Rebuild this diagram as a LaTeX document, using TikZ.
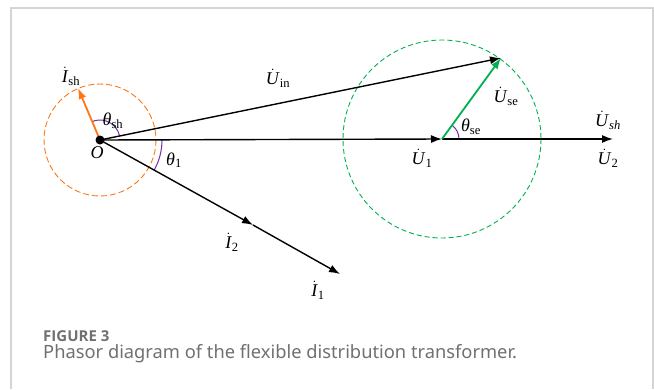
\documentclass[tikz,border=0pt]{standalone}
\usepackage{amsmath}
\usepackage{fontspec}
\setmainfont{Liberation Serif}
\newfontfamily\capfont{Noto Sans}
\newfontfamily\capboldfont{Open Sans}
\usetikzlibrary{arrows.meta,calc}
\definecolor{shorange}{RGB}{255,118,20}
\definecolor{segreen}{RGB}{0,176,80}
\definecolor{arcpurple}{RGB}{112,48,160}
\definecolor{framegray}{RGB}{212,212,212}
\definecolor{capgray}{RGB}{112,112,112}
\newcommand{\ph}[1]{\dot{\mbox{\textit{#1}}}}
\newcommand{\thet}{\mbox{\textit{θ}}}
\tikzset{
  phasor/.style={-{Latex[length=11pt,width=8pt]},black,line width=1.4pt},
  lbl/.style={font=\fontsize{18}{21}\selectfont,inner sep=0pt},
  anglearc/.style={arcpurple,line width=1pt}
}

\begin{document}
\begin{tikzpicture}[x=1pt,y=-1pt]
\useasboundingbox (0,0) rectangle (654,389);
% Frame
\draw[framegray,line width=1.2pt] (11,389) -- (11,8) -- (653,8) -- (653,389);
% Phasor end points
\coordinate (O) at (100,140);
\coordinate (U1) at (442,139);
\coordinate (U2) at (613,139);
\coordinate (Uin) at (501,58);
\coordinate (Ish) at (78,88);
\coordinate (I2) at (253,225);
\coordinate (I1) at (340,274);
% Dashed circles
\draw[shorange,dashed,dash pattern=on 6pt off 3pt,line width=0.9pt] (O) circle[radius=56];
\draw[segreen,dashed,dash pattern=on 5pt off 3pt,line width=0.9pt] (U1) circle[radius=99];
% Angle arcs
\draw[anglearc] (O) ++(-11.56:20) arc[start angle=-11.56,end angle=-112.9,radius=20];
\draw[anglearc] (O) ++(0:62) arc[start angle=0,end angle=29.2,radius=62];
\draw[anglearc] (U1) ++(0:17) arc[start angle=0,end angle=-53.9,radius=17];
% Phasors
\draw[phasor] (O) -- (U1);
\draw[phasor] (U1) -- (U2);
\draw[phasor] (O) -- (Uin);
\draw[phasor] (O) -- (I2);
\draw[phasor] (I2) -- (I1);
\draw[-{Latex[length=11pt,width=8pt]},shorange,line width=1.8pt] (O) -- (Ish);
\draw[-{Latex[length=11pt,width=8pt]},segreen,line width=1.8pt] (U1) -- (Uin);
\fill (O) circle[radius=4.5];
% Labels
\node[lbl] (lIsh) at (71,76) {$\ph{I}_{\text{sh}}$};
\node[lbl] (lthsh) at (113,121) {$\thet_{\text{sh}}$};
\node[lbl] (lO) at (97,153) {$\mbox{\textit{O}}$};
\node[lbl] (lth1) at (174,160) {$\thet_{\text{1}}$};
\node[lbl] (lUin) at (278,78) {$\ph{U}_{\text{in}}$};
\node[lbl] (lUse) at (506,96) {$\ph{U}_{\text{se}}$};
\node[lbl] (lthse) at (471,127) {$\thet_{\text{se}}$};
\node[lbl] (lU1) at (422,158) {$\ph{U}_{\text{1}}$};
\node[lbl] (lUsh) at (608,120) {$\ph{U}_{\textit{sh}}$};
\node[lbl] (lU2) at (608,158) {$\ph{U}_{\text{2}}$};
\node[lbl] (lI2) at (232,242) {$\ph{I}_{\text{2}}$};
\node[lbl] (lI1) at (318,290) {$\ph{I}_{\text{1}}$};
% Caption
\node[anchor=base west,inner sep=0pt,text=capgray,font=\capboldfont\bfseries\fontsize{15}{18}\selectfont] (capA) at (43,341) {FIGURE 3};
\node[anchor=base west,inner sep=0pt,text=capgray,font=\capfont\fontsize{18.3}{21}\selectfont] (capB) at (43,358.5) {Phasor diagram of the flexible distribution transformer.};
\end{tikzpicture}
\end{document}
